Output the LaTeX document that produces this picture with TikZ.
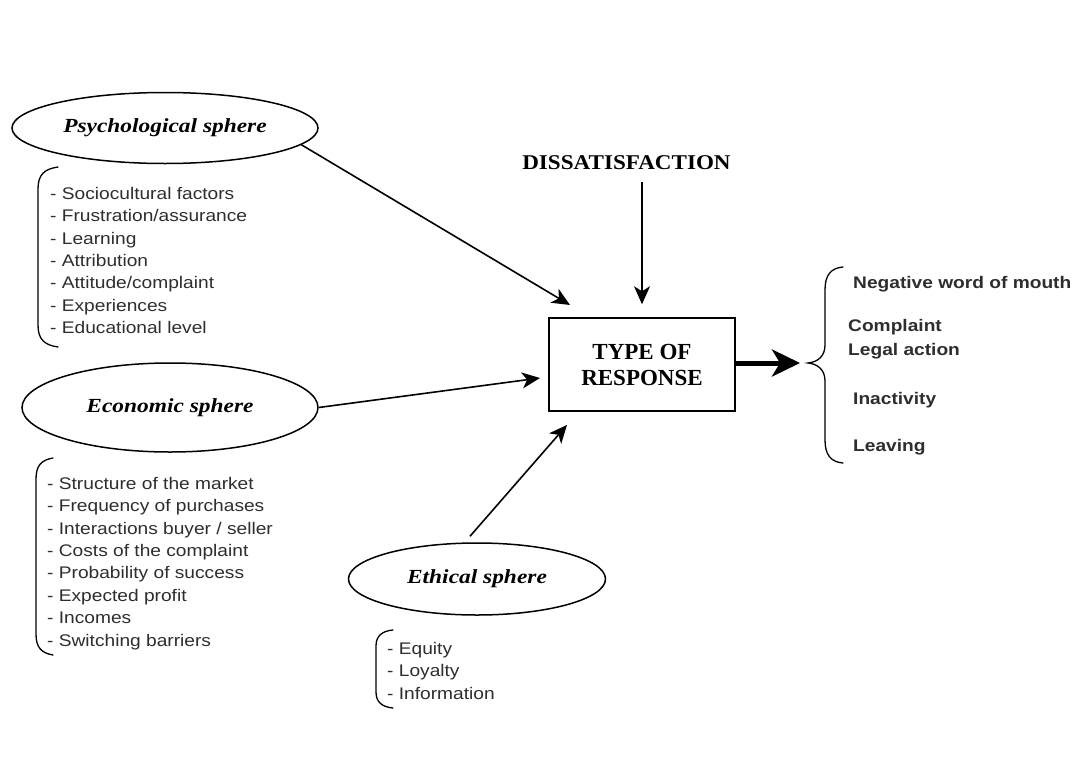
\documentclass[tikz,border=0pt]{standalone}
\usepackage{fontspec}
\usepackage{graphicx}
\usetikzlibrary{shapes.geometric,arrows.meta}
\newfontfamily\lsans{Liberation Sans}[FakeStretch=1.14]
\newfontfamily\lserif{Liberation Serif}[FakeStretch=1.17]
\newfontfamily\pserif{Liberation Serif}
\begin{document}
\begin{tikzpicture}[x=1pt,y=-1pt,
  sphere/.style={ellipse, draw, line width=1.5pt, inner sep=0pt,
    font=\lserif\bfseries\itshape\fontsize{20}{24}\selectfont},
  listtext/.style={anchor=north west, align=left, inner sep=0pt, text=black!82,
    font=\lsans\fontsize{16.8}{22.4}\selectfont},
  resp/.style={anchor=base west, inner sep=0pt, text=black!82,
    font=\lsans\bfseries\fontsize{16.8}{20}\selectfont},
  bracketline/.style={line width=1.3pt, line cap=round},
  arr/.style={line width=1.6pt, -{Stealth[length=18pt,width=16pt,inset=5pt]}},
  bigarr/.style={line width=5pt, -{Stealth[length=28pt,width=27pt,inset=8pt]}}]
\useasboundingbox[fill=white] (0,0) rectangle (1080,774);

% spheres
\node[sphere, minimum width=306pt, minimum height=71pt] (psy) at (165,128) {Psychological sphere};
\node[sphere, minimum width=296pt, minimum height=89pt] (eco) at (170,407.5) {Economic sphere};
\node[sphere, minimum width=257pt, minimum height=72pt] (eth) at (477,579) {Ethical sphere};

% central box and dissatisfaction
\node[draw, line width=1.5pt, minimum width=186pt, minimum height=93pt, align=center,
  font=\pserif\bfseries\fontsize{23}{26}\selectfont] (box) at (642,364.5) {TYPE OF\\RESPONSE};
\node[inner sep=0pt, font=\pserif\bfseries\fontsize{21}{24}\selectfont] (dis) at (626.5,163)
  {\scalebox{1.1}[1]{DISSATISFACTION}};

% lists
\node[listtext] (psyl) at (50,187) {- Sociocultural factors\\- Frustration/assurance\\- Learning\\- Attribution\\- Attitude/complaint\\- Experiences\\- Educational level};
\node[listtext] (ecol) at (47,477) {- Structure of the market\\- Frequency of purchases\\- Interactions buyer / seller\\- Costs of the complaint\\- Probability of success\\- Expected profit\\- Incomes\\- Switching barriers};
\node[listtext] (ethl) at (387,642) {- Equity\\- Loyalty\\- Information};

% brackets
\draw[bracketline] (58,167) .. controls (44,169) and (38,175) .. (38,189) -- (38,325) .. controls (38,339) and (44,345) .. (58,347);
\draw[bracketline] (53,458) .. controls (41,460) and (36,466) .. (36,479) -- (36,634) .. controls (36,647) and (41,653) .. (53,655);
\draw[bracketline] (393,630) .. controls (382,631) and (376,636) .. (376,646) -- (376,692) .. controls (376,702) and (382,707) .. (393,708);

% responses
\node[resp] (r1) at (853,288) {Negative word of mouth};
\node[resp] (r2) at (848,331) {Complaint};
\node[resp] (r3) at (848,355) {Legal action};
\node[resp] (r4) at (853,404) {Inactivity};
\node[resp] (r5) at (853,451) {Leaving};
\coordinate (btip) at (808,363);
\draw[bracketline] (843,267) .. controls (831,268) and (825,275) .. (825,290) -- (825,345) .. controls (825,356) and (818,362) .. (btip) .. controls (818,364) and (825,370) .. (825,381) -- (825,440) .. controls (825,455) and (831,462) .. (843,463);

% connectors
\coordinate (t1) at (570,305);
\coordinate (t2) at (540,378);
\coordinate (t3) at (567,425);
\draw[arr] (psy.-7) -- (t1);
\draw[arr] (eco.east) -- (t2);
\draw[arr] ([shift={(-7pt,6pt)}]eth.north) -- (t3);
\draw[arr, shorten <=12pt, shorten >=13pt] (dis.south -| box.north) -- (box.north);
\draw[bigarr, shorten >=8pt] (box.east |- btip) -- (btip);
\end{tikzpicture}
\end{document}
